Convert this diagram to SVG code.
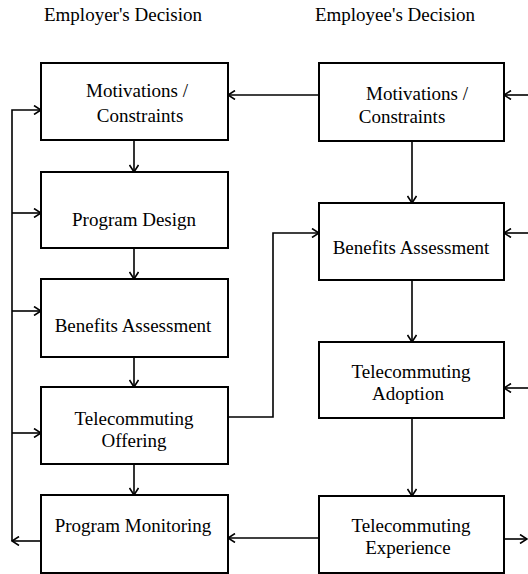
<svg xmlns="http://www.w3.org/2000/svg" width="528" height="574" viewBox="0 0 528 574">
<style>
.box{fill:#fff;stroke:#000;stroke-width:2}
text{font-family:"Liberation Serif","Times New Roman",serif;font-size:19px;fill:#000;text-anchor:middle}
.c{fill:none;stroke:#000;stroke-width:1.6}
</style>
<defs>
<marker id="a" viewBox="0 0 10 10" refX="9" refY="5" markerWidth="10" markerHeight="10" markerUnits="userSpaceOnUse" orient="auto">
<path d="M2 0.5 L9 5 L2 9.5" fill="none" stroke="#000" stroke-width="1.6"/>
</marker>
</defs>
<rect width="528" height="574" fill="#fff"/>
<text x="123" y="21">Employer's Decision</text>
<text x="395" y="21">Employee's Decision</text>
<g id="connectors">
<path class="c" d="M134 140 V172" marker-end="url(#a)"/>
<path class="c" d="M134 248 V279" marker-end="url(#a)"/>
<path class="c" d="M134 357 V387" marker-end="url(#a)"/>
<path class="c" d="M134 464 V495" marker-end="url(#a)"/>
<path class="c" d="M412 141 V203" marker-end="url(#a)"/>
<path class="c" d="M412 280 V342" marker-end="url(#a)"/>
<path class="c" d="M412 418 V496" marker-end="url(#a)"/>
<path class="c" d="M319 95 H228" marker-end="url(#a)"/>
<path class="c" d="M319 538 H228" marker-end="url(#a)"/>
<path class="c" d="M228 417 H273 V233 H319" marker-end="url(#a)"/>
<path class="c" d="M41 541 H12" marker-end="url(#a)"/>
<path class="c" d="M12 541 V110 H41" marker-end="url(#a)"/>
<path class="c" d="M12 213 H41" marker-end="url(#a)"/>
<path class="c" d="M12 311 H41" marker-end="url(#a)"/>
<path class="c" d="M12 433 H41" marker-end="url(#a)"/>
<path class="c" d="M528 95 H504" marker-end="url(#a)"/>
<path class="c" d="M528 233 H504" marker-end="url(#a)"/>
<path class="c" d="M528 388 H504" marker-end="url(#a)"/>
<path class="c" d="M504 539 H527" marker-end="url(#a)"/>
</g>
<g id="er-motivations"><rect class="box" x="41" y="63" width="187" height="77"/><text x="137" y="97">Motivations /</text><text x="140" y="122">Constraints</text></g>
<g id="er-design"><rect class="box" x="41" y="172" width="187" height="76"/><text x="134" y="226">Program Design</text></g>
<g id="er-benefits"><rect class="box" x="41" y="279" width="187" height="78"/><text x="133" y="332">Benefits Assessment</text></g>
<g id="er-offering"><rect class="box" x="41" y="387" width="187" height="77"/><text x="134" y="425">Telecommuting</text><text x="134" y="447">Offering</text></g>
<g id="er-monitoring"><rect class="box" x="41" y="495" width="187" height="78"/><text x="133" y="532">Program Monitoring</text></g>
<g id="ee-motivations"><rect class="box" x="319" y="63" width="185" height="78"/><text x="417" y="100">Motivations /</text><text x="402" y="123">Constraints</text></g>
<g id="ee-benefits"><rect class="box" x="319" y="203" width="185" height="77"/><text x="411" y="254">Benefits Assessment</text></g>
<g id="ee-adoption"><rect class="box" x="319" y="342" width="185" height="76"/><text x="411" y="378">Telecommuting</text><text x="408" y="400">Adoption</text></g>
<g id="ee-experience"><rect class="box" x="319" y="496" width="185" height="77"/><text x="411" y="532">Telecommuting</text><text x="408" y="554">Experience</text></g>
</svg>
